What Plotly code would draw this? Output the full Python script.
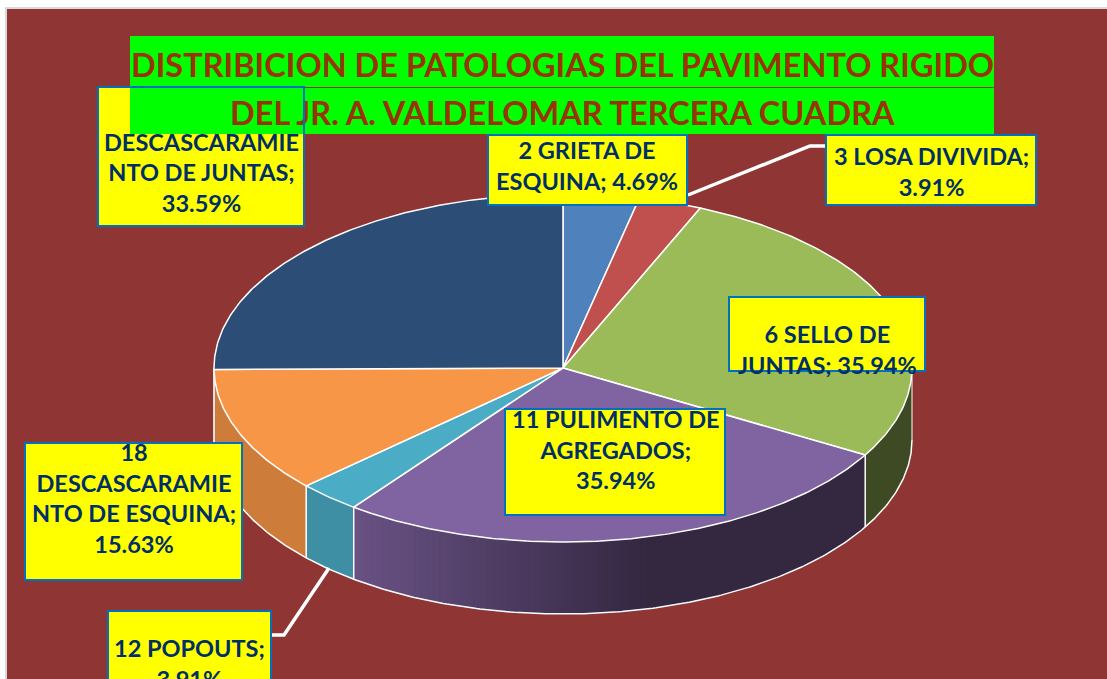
import math
import plotly.graph_objects as go

# ---- data ----
categories = ["2 GRIETA DE ESQUINA", "3 LOSA DIVIVIDA", "6 SELLO DE JUNTAS", "11 PULIMENTO DE AGREGADOS",
              "12 POPOUTS", "18 DESCASCARAMIENTO DE ESQUINA", "33 DESCASCARAMIENTO DE JUNTAS"]
values = [4.69, 3.91, 35.94, 35.94, 3.91, 15.63, 33.59]
colors = ["#4F81BD", "#C0504D", "#9BBB59", "#8064A2", "#4BACC6", "#F79646", "#2C4D75"]
label_lines = [
    ["2 GRIETA DE", "ESQUINA; 4.69%"],
    ["3 LOSA DIVIVIDA;", "3.91%"],
    ["6 SELLO DE", "JUNTAS; 35.94%"],
    ["11 PULIMENTO DE", "AGREGADOS;", "35.94%"],
    ["12 POPOUTS;", "3.91%"],
    ["18", "DESCASCARAMIE", "NTO DE ESQUINA;", "15.63%"],
    ["33", "DESCASCARAMIE", "NTO DE JUNTAS;", "33.59%"],
]
title_lines = ["DISTRIBICION DE PATOLOGIAS DEL PAVIMENTO RIGIDO",
               "DEL JR. A. VALDELOMAR TERCERA CUADRA"]

# ---- layout constants (page pixels) ----
W, H = 1107, 679
CX, CY, RX, RY, DEPTH = 563, 368, 349, 174, 72
BG = "#8F3634"; YEL = "#FFFF00"; EDGE = "#0070C0"; LIME = "#00FF00"
TXT = "#002F67"; TTL = "#993300"; FONT = "Lato"
label_boxes = [(488, 135, 687, 205), (826, 135, 1036, 205), (729, 297, 925, 371), (505, 409, 725, 515),
               (108, 611, 271, 705), (25, 443, 242, 580), (98, 87, 304, 226)]
label_centers = [(587, 165), (931, 171), (827, 349), (616, 449), (189, 663), (134, 498), (201, 157)]


def pt(t, drop=0.0):
    return CX + RX * math.sin(t), CY - RY * math.cos(t) + drop


def arc(a, b, drop=0.0):
    n = max(2, int(abs(b - a) / 0.01))
    return [pt(a + (b - a) * i / n, drop) for i in range(n + 1)]


def shade(hex_c, f):
    r, g, b = (int(hex_c[i:i + 2], 16) for i in (1, 3, 5))
    return f"rgb({int(r * f)},{int(g * f)},{int(b * f)})"


def wall_factor(x):
    if x <= 350:
        return 0.83
    if x >= 650:
        return 0.40
    return 0.83 + (x - 350) / 300 * (0.40 - 0.83)


total = sum(values)
edges = [0.0]
for v in values:
    edges.append(edges[-1] + v / total * 2 * math.pi)

fig = go.Figure()


def poly(points, fill, line=None, width=0):
    fig.add_trace(go.Scatter(x=[p[0] for p in points], y=[p[1] for p in points], mode="lines",
                             fill="toself", fillcolor=fill, hoverinfo="skip", showlegend=False,
                             line=dict(color=line or fill, width=width)))


def stroke(points, width=1.5, color="white"):
    fig.add_trace(go.Scatter(x=[p[0] for p in points], y=[p[1] for p in points], mode="lines",
                             hoverinfo="skip", showlegend=False, line=dict(color=color, width=width)))


# side walls (only the front half of the disc shows), shaded in thin strips; equal shades are merged
HALF, FULL = math.pi / 2, 3 * math.pi / 2
for i, c in enumerate(colors):
    a, b = max(edges[i], HALF), min(edges[i + 1], FULL)
    if b <= a:
        continue
    n = max(1, int((b - a) / 0.02))
    runs = []
    for k in range(n):
        s, e = a + (b - a) * k / n, a + (b - a) * (k + 1) / n
        col = shade(c, wall_factor((pt(s)[0] + pt(e)[0]) / 2))
        if runs and runs[-1][2] == col:
            runs[-1][1] = e
        else:
            runs.append([s, e, col])
    for s, e, col in runs:
        poly(arc(s, e) + arc(e, s, DEPTH), col, col, 1)

# wall outlines
stroke(arc(HALF, FULL, DEPTH), 1.5)
for e in edges:
    if HALF <= e <= FULL:
        stroke([pt(e), pt(e, DEPTH)], 1.5)
stroke([pt(HALF), pt(HALF, DEPTH)], 1)
stroke([pt(FULL), pt(FULL, DEPTH)], 0.6)

# top faces
for i, c in enumerate(colors):
    poly([(CX, CY)] + arc(edges[i], edges[i + 1]) + [(CX, CY)], c, "white", 1.5)

# ---- shapes: plot backdrop, leaders, label boxes ----
shapes = [dict(type="rect", x0=6, y0=8, x1=W + 5, y1=H + 5, fillcolor=BG,
               line=dict(color="#D9D9D9", width=2), layer="below")]
shapes += [
    dict(type="path", path="M 688 195 L 810 146 L 826 146", line=dict(color="white", width=3.5)),
    dict(type="path", path="M 329 568 L 284 635 L 271 635", line=dict(color="white", width=3.5)),
]
for x0, y0, x1, y1 in label_boxes:
    shapes.append(dict(type="rect", x0=x0, y0=y0, x1=x1, y1=y1, fillcolor=YEL,
                       line=dict(color=EDGE, width=2)))

annotations = []
for lines, (x, y) in zip(label_lines, label_centers):
    annotations.append(dict(x=x, y=y, xref="x", yref="y", text="<br>".join(lines), showarrow=False,
                            xanchor="center", yanchor="middle", align="center",
                            font=dict(family=FONT, size=23.5, color=TXT, weight=700)))


def bar(x0, y0, x1, y1, color):
    return dict(x=(x0 + x1) / 2, y=(y0 + y1) / 2, xref="x", yref="y", text=" ", showarrow=False,
                xanchor="center", yanchor="middle", width=x1 - x0, height=y1 - y0,
                bgcolor=color, borderpad=0, borderwidth=0)


# title bands sit above the label that they partly hide
bands = [(130, 36, 994, 87), (130, 88, 994, 134)]
title_y = [64, 112]
for line, (x0, y0, x1, y1), ty in zip(title_lines, bands, title_y):
    annotations.append(bar(x0, y0, x1, y1, LIME))
    annotations.append(dict(x=(x0 + x1) / 2, y=ty, xref="x", yref="y", text=line, showarrow=False,
                            xanchor="center", yanchor="middle", align="center",
                            font=dict(family=FONT, size=32.5, color=TTL, weight=700)))

# top and right border of the hidden label run over the band
x0, y0, x1, y1 = label_boxes[-1]
annotations.append(bar(x0 - 1, y0 - 1, x1 + 1, y0 + 1, EDGE))
annotations.append(bar(x1 - 1, y0 - 1, x1 + 1, 134, EDGE))

fig.update_layout(
    width=W, height=H, autosize=False, margin=dict(l=0, r=0, t=0, b=0),
    paper_bgcolor="white", plot_bgcolor="rgba(0,0,0,0)", showlegend=False, hovermode=False,
    xaxis=dict(range=[0, W], visible=False, fixedrange=True),
    yaxis=dict(range=[H, 0], visible=False, fixedrange=True),
    shapes=shapes, annotations=annotations,
)
fig.write_html("out.html", config=dict(displayModeBar=False),
               post_script="document.body.style.margin='0';document.body.style.overflow='hidden';")
